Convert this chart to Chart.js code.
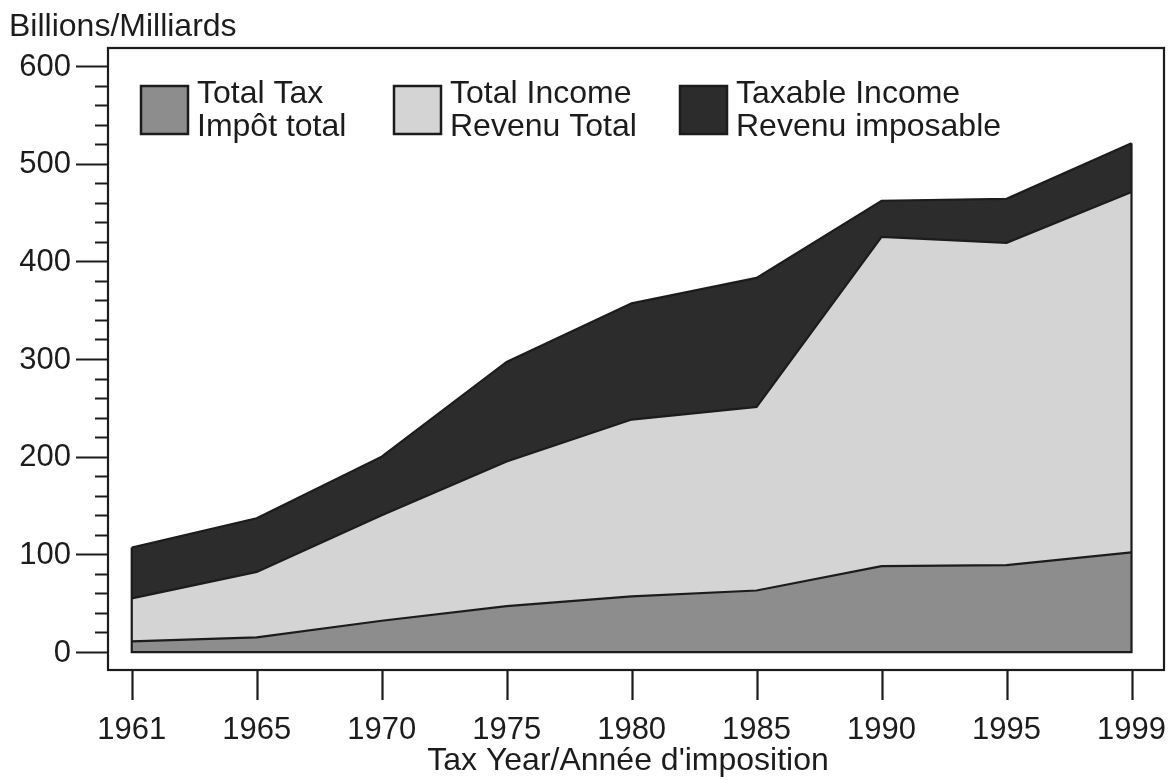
<!DOCTYPE html>
<html>
<head>
<meta charset="utf-8">
<script src="https://cdn.jsdelivr.net/npm/chart.js@4/dist/chart.umd.min.js"></script>
<style>
  html, body { margin: 0; padding: 0; background: #ffffff; }
  #wrap { width: 1174px; height: 780px; }
</style>
</head>
<body>
<div id="wrap"><canvas id="c" width="1174" height="780"></canvas></div>
<script>
const years = ['1961', '1965', '1970', '1975', '1980', '1985', '1990', '1995', '1999'];
const totalTax = [11, 15, 32, 47, 57, 63, 88, 89, 102];
const totalIncome = [55, 82, 140, 195, 238, 251, 425, 419, 471];
const taxableIncome = [107, 137, 200, 297, 357, 383, 462, 464, 521];
const yMajorTicks = [0, 100, 200, 300, 400, 500, 600];
const yMinorStep = 20;
const legendLines = [
  ['Total Tax', 'Impôt total'],
  ['Total Income', 'Revenu Total'],
  ['Taxable Income', 'Revenu imposable']
];
const yTitle = 'Billions/Milliards';
const xTitle = "Tax Year/Année d'imposition";

const FAMILY = '"Liberation Sans", Arial, Helvetica, sans-serif';
const TICK_FONT = '31px ' + FAMILY;
const TEXT_FONT = '32px ' + FAMILY;
const INK = '#1c1c1c';

function pts(arr) { return arr.map((v, i) => ({ x: i, y: v })); }

const decor = {
  id: 'decor',
  beforeDatasetsDraw(chart) {
    const ctx = chart.ctx, a = chart.chartArea;
    ctx.save();
    ctx.fillStyle = '#ffffff';
    ctx.fillRect(a.left, a.top, a.right - a.left, a.bottom - a.top);
    ctx.restore();
  },
  afterDatasetsDraw(chart) {
    const ctx = chart.ctx, a = chart.chartArea;
    const xs = chart.scales.x, ys = chart.scales.y;
    ctx.save();
    // outline of filled region: base line and end verticals
    const n = years.length - 1;
    const y0 = ys.getPixelForValue(0);
    ctx.strokeStyle = INK;
    ctx.lineWidth = 2.2;
    ctx.beginPath();
    ctx.moveTo(xs.getPixelForValue(0), ys.getPixelForValue(taxableIncome[0]));
    ctx.lineTo(xs.getPixelForValue(0), y0);
    ctx.lineTo(xs.getPixelForValue(n), y0);
    ctx.lineTo(xs.getPixelForValue(n), ys.getPixelForValue(taxableIncome[n]));
    ctx.stroke();

    // frame
    ctx.lineWidth = 2.2;
    ctx.strokeRect(a.left, a.top, a.right - a.left, a.bottom - a.top);

    // y ticks
    ctx.beginPath();
    for (let v = 0; v <= 600; v += yMinorStep) {
      const py = Math.round(ys.getPixelForValue(v)) + 0.5;
      const major = yMajorTicks.includes(v);
      ctx.moveTo(a.left - (major ? 32 : 13), py);
      ctx.lineTo(a.left, py);
    }
    ctx.stroke();
    ctx.fillStyle = INK;
    ctx.font = TICK_FONT;
    ctx.textAlign = 'right';
    ctx.textBaseline = 'middle';
    yMajorTicks.forEach(v => {
      ctx.fillText(String(v), a.left - 37, ys.getPixelForValue(v) + 1);
    });

    // x ticks
    ctx.beginPath();
    years.forEach((yr, i) => {
      const px = Math.round(xs.getPixelForValue(i)) + 0.5;
      ctx.moveTo(px, a.bottom);
      ctx.lineTo(px, a.bottom + 30);
    });
    ctx.stroke();
    ctx.textAlign = 'center';
    ctx.textBaseline = 'alphabetic';
    years.forEach((yr, i) => {
      ctx.fillText(yr, xs.getPixelForValue(i), 739);
    });

    // axis titles
    ctx.font = TEXT_FONT;
    ctx.fillText(xTitle, (a.left + a.right) / 2 - 8, 770);
    ctx.textAlign = 'left';
    ctx.fillText(yTitle, 9, 36);

    // legend
    const boxes = [141, 394, 680];
    chart.data.datasets.forEach((ds, i) => {
      const bx = boxes[i];
      ctx.fillStyle = ds.backgroundColor;
      ctx.fillRect(bx, 86, 47, 48);
      ctx.strokeStyle = INK;
      ctx.lineWidth = 2.5;
      ctx.strokeRect(bx, 86, 47, 48);
      ctx.fillStyle = INK;
      ctx.textAlign = 'left';
      ctx.fillText(legendLines[i][0], bx + 56, 103);
      ctx.fillText(legendLines[i][1], bx + 56, 136);
    });
    ctx.restore();
  }
};

new Chart(document.getElementById('c'), {
  type: 'line',
  data: {
    datasets: [
      { label: 'Total Tax', data: pts(totalTax), backgroundColor: '#8d8d8d', borderColor: INK, borderWidth: 2.2, fill: 'origin', pointRadius: 0, tension: 0 },
      { label: 'Total Income', data: pts(totalIncome), backgroundColor: '#d4d4d4', borderColor: INK, borderWidth: 2.2, fill: 'origin', pointRadius: 0, tension: 0 },
      { label: 'Taxable Income', data: pts(taxableIncome), backgroundColor: '#2c2c2c', borderColor: INK, borderWidth: 2.2, fill: 'origin', pointRadius: 0, tension: 0 }
    ]
  },
  options: {
    responsive: false,
    animation: false,
    layout: { padding: { left: 108, top: 48, right: 10, bottom: 110 } },
    scales: {
      x: { type: 'linear', min: -0.19, max: 8.26, display: false },
      y: { type: 'linear', min: -18.4, max: 618.4, display: false }
    },
    plugins: {
      legend: { display: false },
      tooltip: { enabled: false }
    }
  },
  plugins: [decor]
});
</script>
</body>
</html>
